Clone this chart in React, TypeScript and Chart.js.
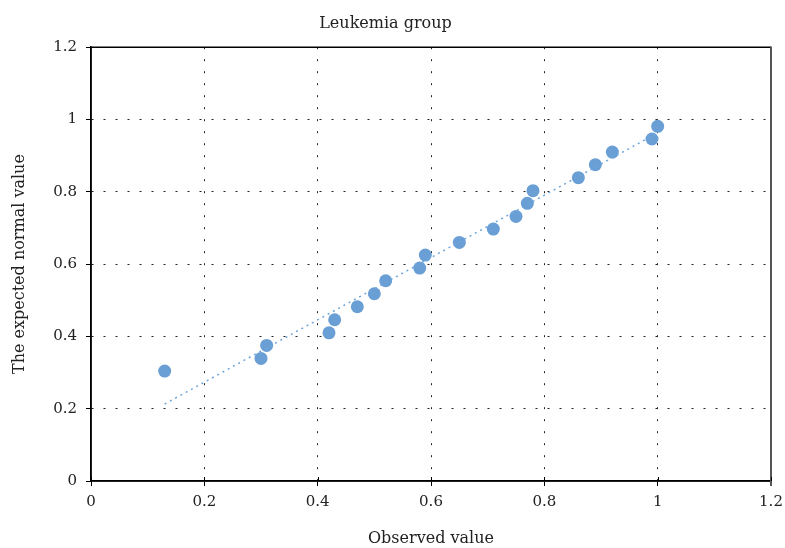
import React, { useEffect, useRef } from "react";
import { Chart, registerables } from "chart.js";

Chart.register(...registerables);

const observed = [0.13, 0.30, 0.31, 0.42, 0.43, 0.47, 0.50, 0.52, 0.58, 0.59, 0.65, 0.71, 0.75, 0.77, 0.78, 0.86, 0.89, 0.92, 0.99, 1.0];
const expected = [0.304, 0.339, 0.375, 0.410, 0.446, 0.482, 0.518, 0.554, 0.589, 0.625, 0.660, 0.697, 0.732, 0.768, 0.803, 0.839, 0.875, 0.910, 0.946, 0.981];
const lineX = [0.13, 1.0];
const lineY = [0.213, 0.963];
const xTicks = [0, 0.2, 0.4, 0.6, 0.8, 1, 1.2];
const yTicks = [0, 0.2, 0.4, 0.6, 0.8, 1, 1.2];

const FONT = "'DejaVu Serif', 'Liberation Serif', serif";

export default function App() {
  const ref = useRef<HTMLCanvasElement | null>(null);
  useEffect(() => {
    if (!ref.current) return;
    const boxPlugin = {
      id: "box",
      afterDraw(chart: any) {
        const { ctx, chartArea: a } = chart;
        ctx.save();
        ctx.setLineDash([]);
        ctx.strokeStyle = "#000";
        ctx.lineWidth = 1.5;
        ctx.beginPath();
        ctx.moveTo(a.left, a.top);
        ctx.lineTo(a.right, a.top);
        ctx.moveTo(a.left, a.top);
        ctx.lineTo(a.left, a.bottom);
        ctx.lineTo(a.right, a.bottom);
        ctx.stroke();
        ctx.strokeStyle = "#555";
        ctx.lineWidth = 2;
        ctx.beginPath();
        ctx.moveTo(a.right, a.top - 0.75);
        ctx.lineTo(a.right, a.bottom + 5);
        ctx.stroke();
        ctx.strokeStyle = "#000";
        ctx.lineWidth = 1;
        const xs = chart.scales.x;
        xTicks.forEach((v) => {
          const px = Math.round(xs.getPixelForValue(v)) + 0.5;
          ctx.beginPath();
          ctx.moveTo(px, a.bottom);
          ctx.lineTo(px, a.bottom - 4);
          ctx.stroke();
        });
        ctx.restore();
      },
    };
    const gridColor = (ctx: any) => {
      const v = ctx.tick ? ctx.tick.value : null;
      if (v === 0 || Math.abs(v - 1.2) < 1e-9) return "rgba(0,0,0,0)";
      return "#222";
    };
    const gridOpts: any = {
      color: gridColor,
      lineWidth: 1,
      drawTicks: true,
      tickLength: 5,
      tickColor: "#000",
      tickBorderDash: [],
      tickWidth: 1,
    };
    const chart = new Chart(ref.current, {
      type: "scatter",
      data: {
        datasets: [
          {
            type: "line",
            data: lineX.map((x, i) => ({ x, y: lineY[i] })),
            borderColor: "#6fa6da",
            borderWidth: 1.5,
            borderDash: [2, 4],
            pointRadius: 0,
            fill: false,
          } as any,
          {
            data: observed.map((x, i) => ({ x, y: expected[i] })),
            backgroundColor: "#6a9fd5",
            borderColor: "#6a9fd5",
            pointRadius: 6.5,
            borderWidth: 0,
          },
        ],
      },
      options: {
        animation: false,
        responsive: false,
        maintainAspectRatio: false,
        layout: { padding: { left: 0, right: 14, top: 0, bottom: 0 } },
        plugins: {
          legend: { display: false },
          tooltip: { enabled: false },
          title: {
            display: true,
            text: "Leukemia group",
            color: "#222",
            font: { family: FONT, size: 16, weight: "normal" },
            padding: { top: 14, bottom: 14 },
          },
        },
        scales: {
          x: {
            type: "linear",
            min: 0,
            max: 1.2,
            afterBuildTicks: (s: any) => {
              s.ticks = xTicks.map((v) => ({ value: v }));
            },
            afterFit: (s: any) => {
              s.height = 67;
              s.paddingLeft = 0;
              s.paddingRight = 0;
            },
            ticks: {
              color: "#222",
              font: { family: FONT, size: 15 },
              padding: 7,
              maxRotation: 0,
              callback: (v: any) => String(v),
            },
            grid: gridOpts,
            border: { color: "#000", width: 1.5, dash: [2, 10] },
            title: {
              display: true,
              text: "Observed value",
              color: "#222",
              font: { family: FONT, size: 16 },
              padding: { top: 8, bottom: 0 },
            },
          },
          y: {
            type: "linear",
            min: 0,
            max: 1.2,
            afterBuildTicks: (s: any) => {
              s.ticks = yTicks.map((v) => ({ value: v }));
            },
            afterFit: (s: any) => {
              s.width = 91;
              s.paddingTop = 0;
              s.paddingBottom = 0;
            },
            ticks: {
              color: "#222",
              font: { family: FONT, size: 15 },
              padding: 9,
              callback: (v: any) => String(v),
            },
            grid: gridOpts,
            border: { color: "#000", width: 1.5, dash: [2, 10] },
            title: {
              display: true,
              text: "The expected normal value",
              color: "#222",
              font: { family: FONT, size: 16 },
              padding: { top: 10, bottom: 0 },
            },
          },
        },
      },
      plugins: [boxPlugin],
    } as any);
    return () => chart.destroy();
  }, []);
  return (
    <div style={{ position: "absolute", left: 0, top: 0, width: 785, height: 548 }}>
      <canvas ref={ref} width={785} height={548} style={{ width: 785, height: 548 }} />
    </div>
  );
}
